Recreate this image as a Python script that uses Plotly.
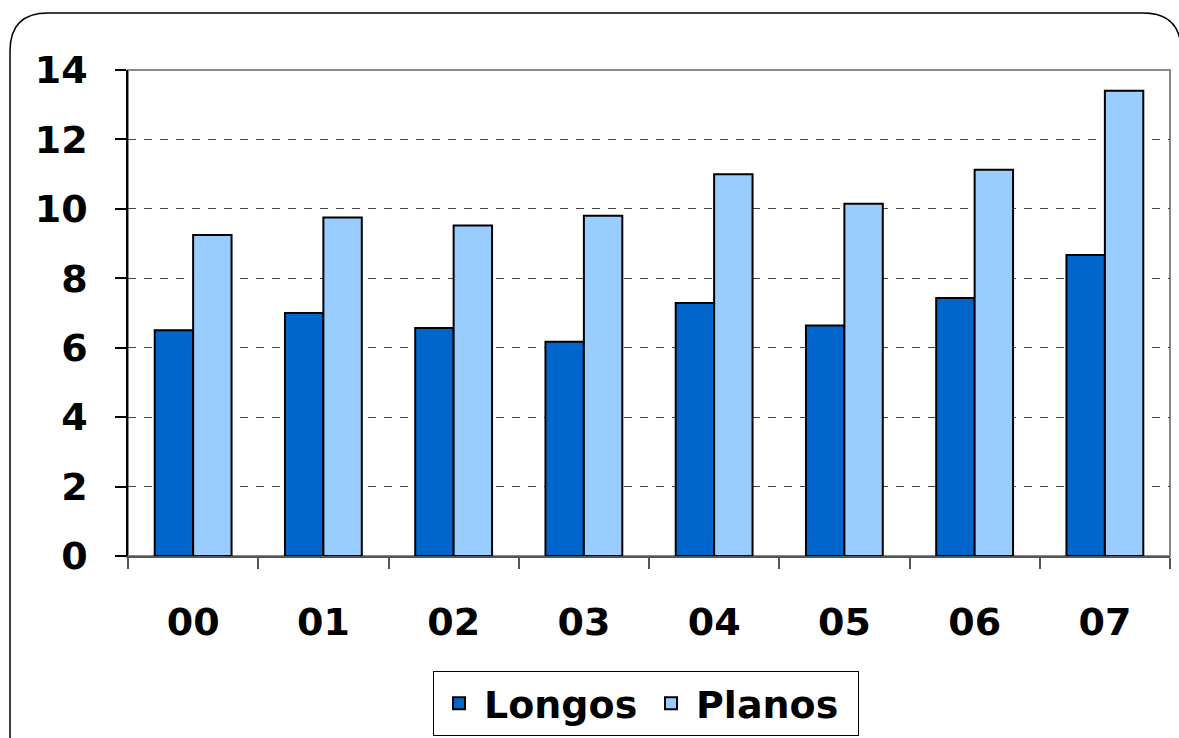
import plotly.graph_objects as go

# Yearly values per product type
years = ["00", "01", "02", "03", "04", "05", "06", "07"]
longos = [6.5, 7.0, 6.57, 6.17, 7.29, 6.64, 7.43, 8.67]
planos = [9.25, 9.75, 9.52, 9.8, 11.0, 10.15, 11.13, 13.4]
y_ticks = [0, 2, 4, 6, 8, 10, 12, 14]

W, H = 1179, 738
L, R, T, B = 128, 9, 70, 182
PW, PH = W - L - R, H - T - B


def px(x):
    return (x - L) / PW


def py(y):
    return (H - B - y) / PH


FONT = "DejaVu Sans, Verdana, sans-serif"
FS = 38

fig = go.Figure()
fig.add_trace(go.Bar(name="Longos", x=years, y=longos,
                     marker=dict(color="#0066CC", line=dict(color="black", width=2))))
fig.add_trace(go.Bar(name="Planos", x=years, y=planos,
                     marker=dict(color="#99CCFF", line=dict(color="black", width=2))))

# Rounded outer frame of the chart
r = 38
x0, y0, x1, y1 = px(10), py(13), px(1181), py(745)
rx, ry = r / PW, r / PH
frame = (f"M {x0} {y1} L {x0} {y0 - ry} Q {x0} {y0} {x0 + rx} {y0} "
         f"L {x1 - rx} {y0} Q {x1} {y0} {x1} {y0 - ry} L {x1} {y1}")

fig.update_layout(
    width=W, height=H,
    margin=dict(l=L, r=R, t=T, b=B, autoexpand=False),
    paper_bgcolor="white", plot_bgcolor="white",
    barmode="group", bargap=0.41, bargroupgap=0,
    font=dict(family=FONT, size=FS, color="black"),
    showlegend=True,
    legend=dict(orientation="h", x=px(646), xanchor="center", y=py(671), yanchor="top",
                bordercolor="black", borderwidth=1, bgcolor="white",
                font=dict(family=FONT, size=FS, color="black", weight="bold"),
                itemwidth=40, tracegroupgap=0,
                entrywidth=157, entrywidthmode="pixels"),
    shapes=[
        dict(type="path", path=frame, xref="paper", yref="paper",
             line=dict(color="black", width=1.5), layer="below"),
        dict(type="rect", xref="paper", yref="paper", x0=0, y0=0, x1=1, y1=1,
             line=dict(color="#888888", width=2), layer="below"),
    ],
    xaxis=dict(
        showline=True, linecolor="#555555", linewidth=1.5,
        ticks="outside", ticklen=11, tickcolor="#555555", tickwidth=1.5,
        tickson="boundaries", showgrid=False, automargin=False,
        tickfont=dict(family=FONT, size=FS, color="black", weight="bold"),
        ticklabelstandoff=32,
    ),
    yaxis=dict(
        range=[0, 14], tickvals=y_ticks,
        showline=True, linecolor="black", linewidth=1.5,
        ticks="outside", ticklen=11, tickcolor="black", tickwidth=1.5,
        showgrid=True, gridcolor="#444444", gridwidth=1, griddash="8px,8px",
        zeroline=False, automargin=False,
        tickfont=dict(family=FONT, size=FS, color="black", weight="bold"),
        ticklabelstandoff=20,
    ),
)

fig.write_html("out.html")
